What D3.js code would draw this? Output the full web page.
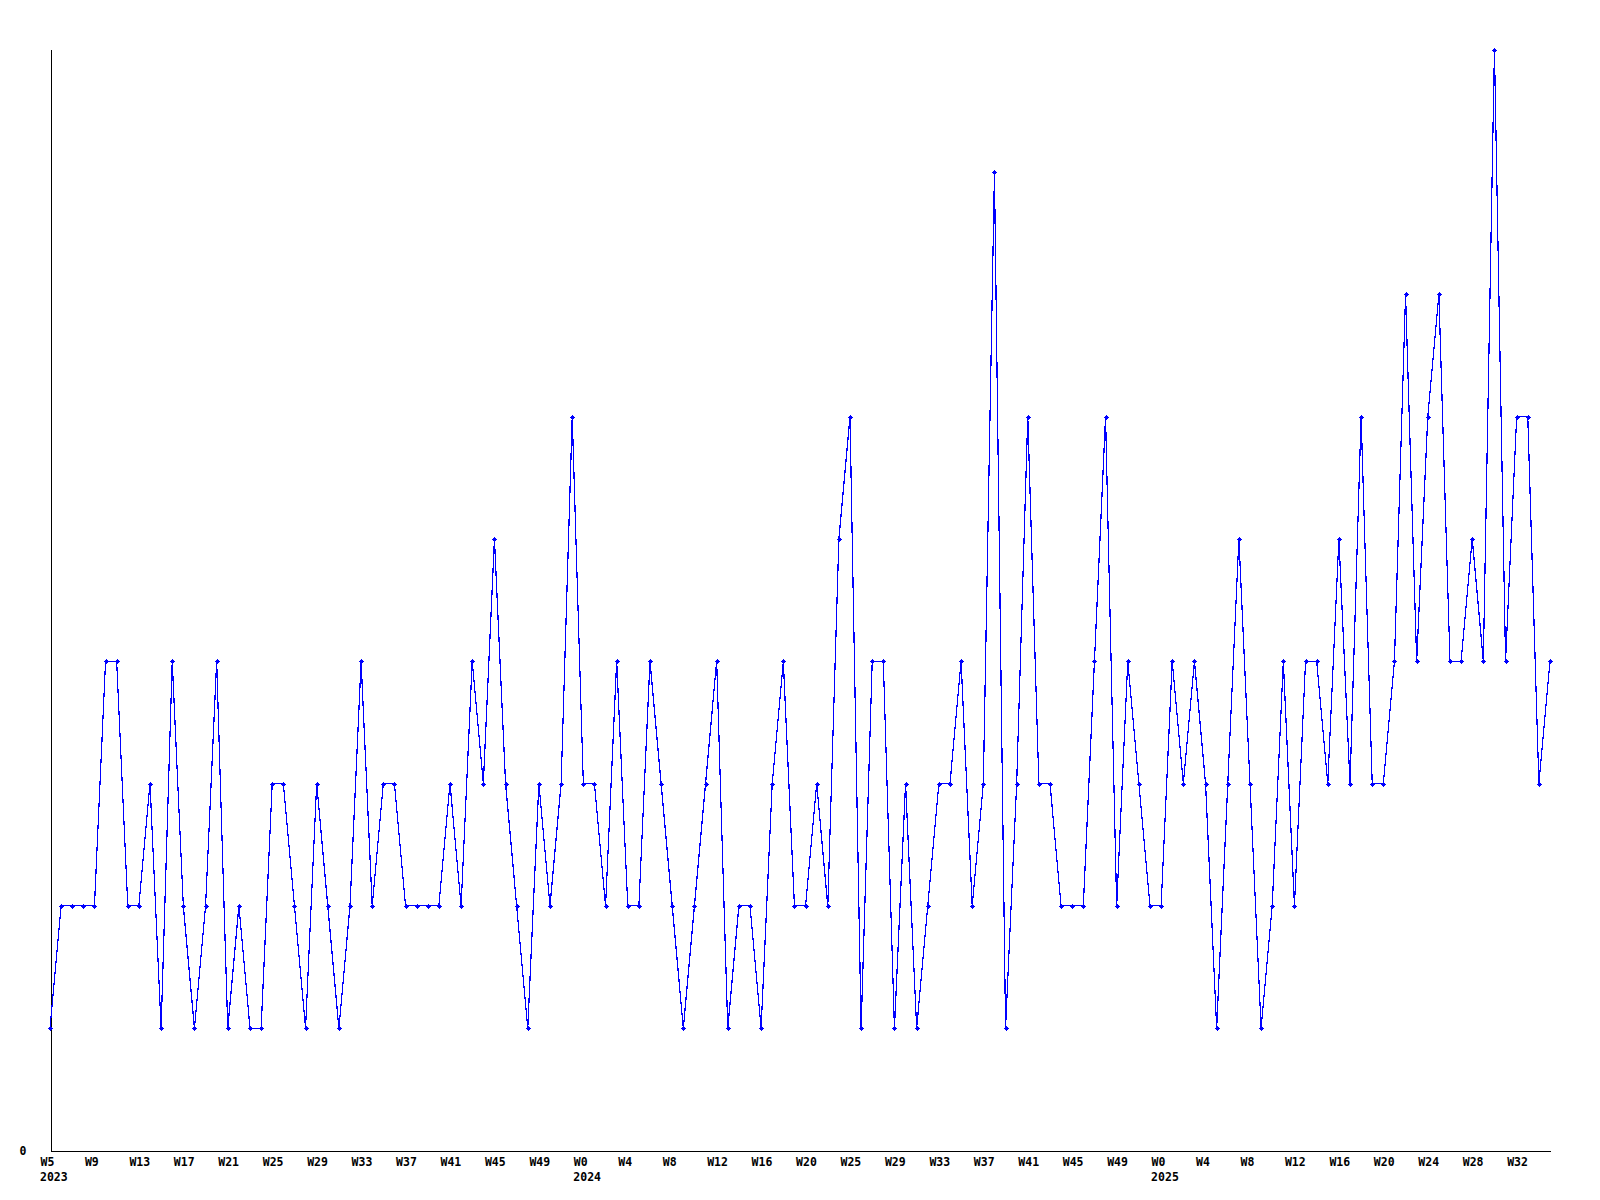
<!DOCTYPE html>
<html>
<head>
<meta charset="utf-8">
<script src="https://cdn.jsdelivr.net/npm/d3@7"></script>
<style>
  html, body { margin: 0; padding: 0; background: #fff; }
  svg { display: block; }
  text { font-family: "DejaVu Sans Mono", "Liberation Mono", monospace; font-weight: bold; font-size: 11.5px; fill: #000; }
</style>
</head>
<body>
<svg id="chart" width="1600" height="1200"></svg>
<script>
// Weekly values, one per week starting at W5 2023
const values = [
  1,2,2,2,2,4,4,2,2,3,1,4,2,1,2,4,1,2,1,1,
  3,3,2,1,3,2,1,2,4,2,3,3,2,2,2,2,3,2,4,3,
  5,3,2,1,3,2,3,6,3,3,2,4,2,2,4,3,2,1,2,3,
  4,1,2,2,1,3,4,2,2,3,2,5,6,1,4,4,1,3,1,2,
  3,3,4,2,3,8,1,3,6,3,3,2,2,2,4,6,2,4,3,2,
  2,4,3,4,3,1,3,5,3,1,2,4,2,4,4,3,5,3,6,3,
  3,4,7,4,6,7,4,4,5,4,9,4,6,6,3,4
];
// Tick positions (index into values), week labels and year labels
const tickIndex = d3.range(0, 133, 4);
const tickWeeks = [
  "W5","W9","W13","W17","W21","W25","W29","W33","W37","W41","W45","W49",
  "W0","W4","W8","W12","W16","W20","W25","W29","W33","W37","W41","W45","W49",
  "W0","W4","W8","W12","W16","W20","W24","W28","W32"
];
const yearIndex = [0, 48, 100];
const yearLabels = ["2023", "2024", "2025"];

const svg = d3.select("#chart");
const x = d3.scaleLinear().domain([0, values.length - 1]).range([50, 1550]);
const y = d3.scaleLinear().domain([0, 9]).range([1150.5, 49.5]);

// X axis
const xAxis = d3.axisBottom(x)
  .tickValues(tickIndex)
  .tickFormat((d, i) => tickWeeks[i])
  .tickSizeInner(0).tickSizeOuter(0).tickPadding(0);
const gx = svg.append("g").attr("transform", `translate(0.5,${y(0)})`).call(xAxis);
gx.select(".domain").attr("stroke", "#000").attr("stroke-width", 1).attr("shape-rendering", "crispEdges");
gx.selectAll(".tick text")
  .attr("text-anchor", "start")
  .attr("x", -10.5)
  .attr("y", 15.5)
  .attr("dy", null)
  .attr("fill", "#000")
  .style("font-family", '"DejaVu Sans Mono", monospace')
  .style("font-weight", "bold")
  .style("font-size", "11.5px");

// Year labels under the first tick of each year
svg.append("g").selectAll("text")
  .data(yearIndex)
  .join("text")
  .attr("x", d => x(d) - 10)
  .attr("y", y(0) + 30)
  .text((d, i) => yearLabels[i]);

// Y axis
const yAxis = d3.axisLeft(y).tickValues([0]).tickFormat(d3.format("d"))
  .tickSizeInner(0).tickSizeOuter(0).tickPadding(24);
const gy = svg.append("g").attr("transform", "translate(50.5,0)").call(yAxis);
gy.select(".domain").attr("stroke", "#000").attr("shape-rendering", "crispEdges");
gy.selectAll(".tick text")
  .attr("dy", "0.36em")
  .attr("fill", "#000")
  .style("font-family", '"DejaVu Sans Mono", monospace')
  .style("font-weight", "bold")
  .style("font-size", "11.5px");

// Line
const line = d3.line().x((d, i) => x(i)).y(d => y(d));
svg.append("path")
  .datum(values)
  .attr("fill", "none")
  .attr("stroke", "#0000ff")
  .attr("stroke-width", 1.2)
  .attr("shape-rendering", "crispEdges")
  .attr("d", line);

// Markers
svg.append("g").selectAll("path")
  .data(values)
  .join("path")
  .attr("transform", (d, i) => `translate(${Math.round(x(i)) + 0.5},${Math.round(y(d)) + 0.5})`)
  .attr("d", "M-2.5,0H2.5M0,-2.5V2.5M-1,-1H1V1H-1Z")
  .attr("fill", "#0000ff")
  .attr("stroke", "#0000ff")
  .attr("stroke-width", 1)
  .attr("shape-rendering", "crispEdges");
</script>
</body>
</html>
